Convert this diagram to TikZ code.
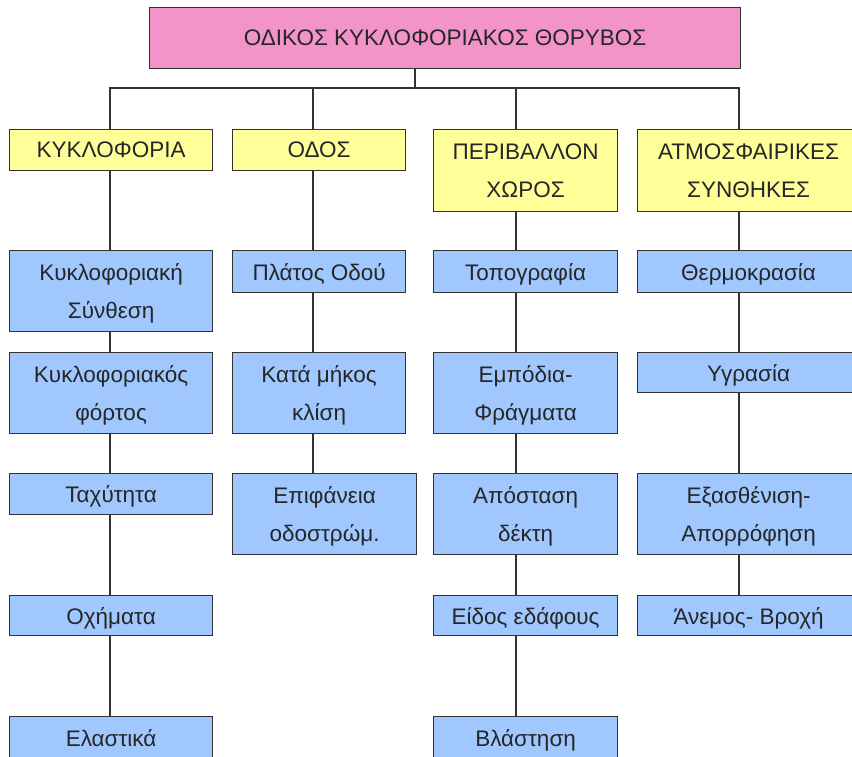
\documentclass[tikz,border=0pt]{standalone}
\usepackage{fontspec}
\setmainfont{Liberation Sans}
\definecolor{titlepink}{RGB}{242,148,200}
\definecolor{groupyellow}{RGB}{255,255,153}
\definecolor{itemblue}{RGB}{160,200,255}
\definecolor{edgegray}{RGB}{50,50,50}

\begin{document}
\begin{tikzpicture}[x=1pt,y=-1pt,
  box/.style={draw=edgegray, line width=1.2pt, anchor=north west, inner sep=0pt,
    align=center, text=black!85, text depth=0pt, font=\fontsize{22.5}{38}\selectfont},
  titlebox/.style={box, fill=titlepink},
  groupbox/.style={box, fill=groupyellow},
  itembox/.style={box, fill=itemblue},
  link/.style={draw=edgegray, line width=1.2pt}]
\useasboundingbox (0,0) rectangle (852,756);

% title
\node (title) [titlebox, minimum width=591, minimum height=61] at (149,7) {ΟΔΙΚΟΣ ΚΥΚΛΟΦΟΡΙΑΚΟΣ ΘΟΡΥΒΟΣ};

% groups
\node (traffic) [groupbox, minimum width=203, minimum height=41] at (9,129) {ΚΥΚΛΟΦΟΡΙΑ};
\node (road) [groupbox, minimum width=173, minimum height=41] at (232,129) {ΟΔΟΣ};
\node (env) [groupbox, minimum width=184, minimum height=82] at (433,129) {ΠΕΡΙΒΑΛΛΟΝ\\ΧΩΡΟΣ};
\node (weather) [groupbox, minimum width=222, minimum height=82] at (637,129) {ΑΤΜΟΣΦΑΙΡΙΚΕΣ\\ΣΥΝΘΗΚΕΣ};

% traffic
\node (t1) [itembox, minimum width=203, minimum height=81] at (9,250) {Κυκλοφοριακή\\Σύνθεση};
\node (t2) [itembox, minimum width=203, minimum height=81] at (9,352) {Κυκλοφοριακός\\φόρτος};
\node (t3) [itembox, minimum width=203, minimum height=41] at (9,473) {Ταχύτητα};
\node (t4) [itembox, minimum width=203, minimum height=40] at (9,595) {Οχήματα};
\node (t5) [itembox, minimum width=203, minimum height=42] at (9,716) {Ελαστικά};

% road
\node (r1) [itembox, minimum width=173, minimum height=42] at (232,250) {Πλάτος Οδού};
\node (r2) [itembox, minimum width=173, minimum height=81] at (232,352) {Κατά μήκος\\κλίση};
\node (r3) [itembox, minimum width=184, minimum height=81] at (232,473) {Επιφάνεια\\οδοστρώμ.};

% environment
\node (e1) [itembox, minimum width=184, minimum height=42] at (433,250) {Τοπογραφία};
\node (e2) [itembox, minimum width=184, minimum height=81] at (433,352) {Εμπόδια-\\Φράγματα};
\node (e3) [itembox, minimum width=184, minimum height=81] at (433,473) {Απόσταση\\δέκτη};
\node (e4) [itembox, minimum width=184, minimum height=40] at (433,595) {Είδος εδάφους};
\node (e5) [itembox, minimum width=184, minimum height=42] at (433,716) {Βλάστηση};

% weather
\node (w1) [itembox, minimum width=222, minimum height=42] at (637,250) {Θερμοκρασία};
\node (w2) [itembox, minimum width=222, minimum height=40] at (637,352) {Υγρασία};
\node (w3) [itembox, minimum width=222, minimum height=81] at (637,473) {Εξασθένιση-\\Απορρόφηση};
\node (w4) [itembox, minimum width=222, minimum height=40] at (637,595) {Άνεμος- Βροχή};

% connectors
\coordinate (hub) at (415,88);
\coordinate (c1) at (110,0);
\coordinate (c2) at (313,0);
\coordinate (c3) at (516,0);
\coordinate (c4) at (739,0);
\draw[link] (title.south -| hub) -- (hub);
\draw[link] (traffic.north -| c1) -- (c1 |- hub) -- (c4 |- hub) -- (weather.north -| c4);
\draw[link] (c2 |- hub) -- (road.north -| c2);
\draw[link] (c3 |- hub) -- (env.north -| c3);
\draw[link] (traffic.south -| c1) -- (t1.north -| c1) (t1.south -| c1) -- (t2.north -| c1)
  (t2.south -| c1) -- (t3.north -| c1) (t3.south -| c1) -- (t4.north -| c1)
  (t4.south -| c1) -- (t5.north -| c1);
\draw[link] (road.south -| c2) -- (r1.north -| c2) (r1.south -| c2) -- (r2.north -| c2)
  (r2.south -| c2) -- (r3.north -| c2);
\draw[link] (env.south -| c3) -- (e1.north -| c3) (e1.south -| c3) -- (e2.north -| c3)
  (e2.south -| c3) -- (e3.north -| c3) (e3.south -| c3) -- (e4.north -| c3)
  (e4.south -| c3) -- (e5.north -| c3);
\draw[link] (weather.south -| c4) -- (w1.north -| c4) (w1.south -| c4) -- (w2.north -| c4)
  (w2.south -| c4) -- (w3.north -| c4) (w3.south -| c4) -- (w4.north -| c4);
\end{tikzpicture}
\end{document}
